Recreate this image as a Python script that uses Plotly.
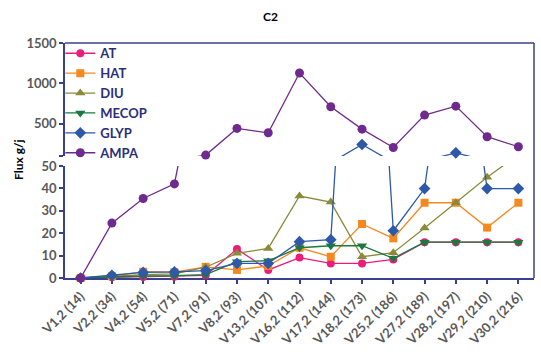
import plotly.graph_objects as go

categories = ["V1,2 (14)", "V2,2 (34)", "V4,2 (54)", "V5,2 (71)", "V7,2 (91)", "V8,2 (93)",
              "V13,2 (107)", "V16,2 (112)", "V17,2 (144)", "V18,2 (173)", "V25,2 (186)",
              "V27,2 (189)", "V28,2 (197)", "V29,2 (210)", "V30,2 (216)"]

AT = [0, 0.3, 0.4, 0.6, 1.2, 12.9, 3.6, 9.1, 6.5, 6.5, 8.3, 16, 16, 16, 16]
HAT = [0, 0.8, 2.8, 2.6, 5.0, 3.6, 5.4, 13.5, 9.5, 24.1, 17.7, 33.6, 33.6, 22.5, 33.6]
DIU = [0, 0.8, 1.5, 1.8, 4.8, 11.0, 13.2, 36.6, 33.9, 9.5, 11.3, 22.3, 33.6, 45.0, 55]
MECOP = [0, 0.5, 0.9, 1.0, 1.5, 7.3, 7.7, 13.5, 14.4, 14.4, 8.8, 16, 16, 16, 16]
GLYP = [0, 1.2, 2.5, 2.7, 3.3, 6.5, 6.5, 16.2, 17.1, 243, 21.1, 39.9, 140, 39.9, 39.9]
AMPA = [0, 24.5, 35.5, 42, 112, 442, 388, 1128, 711, 433, 206, 607, 718, 339, 215]

lower_ticks = [0, 10, 20, 30, 40, 50]
upper_ticks = [100, 500, 1000, 1500]
upper_ticktext = ["", "500", "1000", "1500"]

series = [
    ("AT", AT, "#ec1c7a", "circle", 8),
    ("HAT", HAT, "#f5891f", "square", 8),
    ("DIU", DIU, "#8a8a3b", "triangle-up", 9),
    ("MECOP", MECOP, "#19793f", "triangle-down", 9),
    ("GLYP", GLYP, "#2e58a8", "diamond", 9),
    ("AMPA", AMPA, "#6f2a8e", "circle", 9),
]

NAVY = "#3a3f8e"
GRAY = "#595959"
FONT = "Lato"

fig = go.Figure()
for name, vals, color, sym, size in series:
    for yax, show in (("y", False), ("y2", True)):
        fig.add_trace(go.Scatter(
            x=categories, y=vals, name=name, legendgroup=name, showlegend=show,
            xaxis="x" if yax == "y" else "x2", yaxis=yax,
            mode="lines+markers", cliponaxis=False,
            line=dict(color=color, width=1.3),
            marker=dict(symbol=sym, size=size, color=color),
        ))

axis_common = dict(showline=True, linecolor=NAVY, linewidth=1.5, ticks="outside",
                   ticklen=4, tickwidth=1.5, tickcolor=NAVY, showgrid=False,
                   zeroline=False, layer="below traces", automargin=False)

fig.update_layout(
    width=541, height=354,
    margin=dict(l=65, r=7, t=43, b=76, autoexpand=False),
    paper_bgcolor="white", plot_bgcolor="white",
    showlegend=True,
    title=dict(text="C2", x=0.5, xref="container", xanchor="center",
               y=1 - 17 / 354, yref="container", yanchor="middle",
               font=dict(family=FONT, size=12, color="black", weight="bold")),
    xaxis=dict(type="category", categoryorder="array", categoryarray=categories,
               range=[-0.5, 14.5], anchor="y", tickangle=-45, **axis_common,
               tickfont=dict(family=FONT, size=13, color=GRAY, weight="bold")),
    xaxis2=dict(type="category", categoryorder="array", categoryarray=categories,
                range=[-0.5, 14.5], anchor="y2", matches="x", visible=False),
    yaxis=dict(domain=[0, 0.4766], range=[0, 50], tickvals=lower_ticks, anchor="x",
               **axis_common,
               tickfont=dict(family=FONT, size=13, color=GRAY, weight="bold")),
    yaxis2=dict(domain=[0.519, 1], range=[100, 1500], tickvals=upper_ticks,
                ticktext=upper_ticktext, anchor="x2", **axis_common,
                tickfont=dict(family=FONT, size=13, color=GRAY, weight="bold")),
    legend=dict(x=-0.01, y=1.02, xanchor="left", yanchor="top",
                bgcolor="rgba(0,0,0,0)", tracegroupgap=0,
                font=dict(family=FONT, size=13, color="#2b2f7a", weight="bold")),
    shapes=[
        dict(type="line", xref="paper", yref="paper", x0=0, x1=1, y0=1, y1=1,
             line=dict(color=NAVY, width=1.5)),
        dict(type="line", xref="paper", yref="paper", x0=1, x1=1, y0=0, y1=1,
             line=dict(color=NAVY, width=1.5)),
    ],
    annotations=[
        dict(text="Flux g/j", xref="paper", yref="paper", x=(18 - 65) / 469,
             y=(278 - 160) / 235, textangle=-90, showarrow=False,
             xanchor="center", yanchor="middle",
             font=dict(family=FONT, size=12, color="black", weight="bold")),
    ],
)

fig.write_html("out.html", config={"displayModeBar": False},
               post_script="document.body.style.margin='0';")
